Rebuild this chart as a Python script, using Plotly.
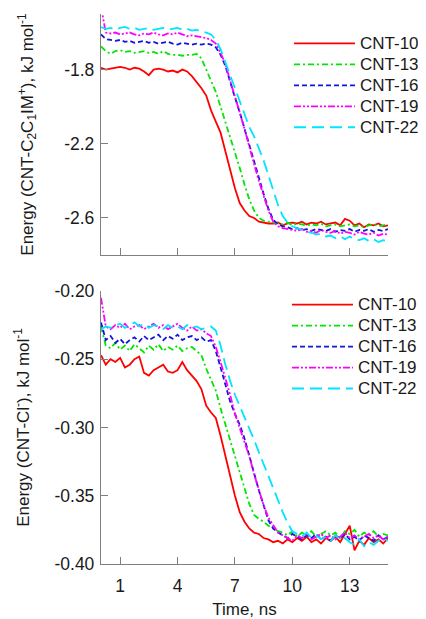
import plotly.graph_objects as go

time_ns = [0, 0.25, 0.5, 0.75, 1, 1.25, 1.5, 1.75, 2, 2.25, 2.5, 2.75, 3, 3.25, 3.5, 3.75,
           4, 4.25, 4.5, 4.75, 5, 5.25, 5.5, 5.75, 6, 6.25, 6.5, 6.75, 7, 7.25, 7.5, 7.75,
           8, 8.25, 8.5, 8.75, 9, 9.25, 9.5, 9.75, 10, 10.25, 10.5, 10.75, 11, 11.25, 11.5, 11.75,
           12, 12.25, 12.5, 12.75, 13, 13.25, 13.5, 13.75, 14, 14.25, 14.5, 14.75, 15]

series_names = ["CNT-10", "CNT-13", "CNT-16", "CNT-19", "CNT-22"]

# Top panel: Energy (CNT-C2C1IM+), kJ/mol
top_cnt10 = [-1.79, -1.80, -1.795, -1.79, -1.785, -1.79, -1.80, -1.79, -1.795, -1.81, -1.83, -1.80,
             -1.795, -1.80, -1.81, -1.805, -1.815, -1.80, -1.81, -1.835, -1.865, -1.90, -1.94, -2.02,
             -2.08, -2.14, -2.24, -2.34, -2.44, -2.52, -2.56, -2.59, -2.60, -2.62, -2.625, -2.63,
             -2.63, -2.625, -2.64, -2.63, -2.625, -2.63, -2.62, -2.635, -2.625, -2.63, -2.62, -2.635,
             -2.63, -2.625, -2.64, -2.605, -2.615, -2.64, -2.63, -2.65, -2.635, -2.64, -2.63, -2.645, -2.64]
top_cnt13 = [-1.675, -1.70, -1.715, -1.70, -1.695, -1.705, -1.70, -1.71, -1.705, -1.70, -1.71, -1.705,
             -1.715, -1.70, -1.715, -1.72, -1.72, -1.725, -1.72, -1.72, -1.715, -1.74, -1.80, -1.86,
             -1.92, -2.00, -2.08, -2.17, -2.25, -2.33, -2.42, -2.50, -2.56, -2.60, -2.615, -2.62,
             -2.625, -2.63, -2.635, -2.625, -2.64, -2.63, -2.635, -2.64, -2.635, -2.64, -2.63, -2.645,
             -2.64, -2.635, -2.645, -2.64, -2.635, -2.645, -2.64, -2.65, -2.64, -2.635, -2.645, -2.64, -2.635]
top_cnt16 = [-1.61, -1.635, -1.64, -1.645, -1.64, -1.65, -1.645, -1.655, -1.65, -1.645, -1.655, -1.65,
             -1.66, -1.655, -1.65, -1.66, -1.665, -1.655, -1.66, -1.665, -1.66, -1.665, -1.66, -1.665,
             -1.68, -1.72, -1.78, -1.87, -1.95, -2.03, -2.12, -2.21, -2.30, -2.39, -2.47, -2.55,
             -2.61, -2.635, -2.645, -2.65, -2.66, -2.655, -2.665, -2.66, -2.67, -2.66, -2.665, -2.67,
             -2.66, -2.675, -2.665, -2.67, -2.66, -2.675, -2.665, -2.67, -2.66, -2.675, -2.665, -2.67, -2.66]
top_cnt19 = [-1.46, -1.60, -1.605, -1.60, -1.61, -1.605, -1.60, -1.61, -1.615, -1.605, -1.61, -1.60,
             -1.61, -1.615, -1.605, -1.61, -1.60, -1.61, -1.62, -1.615, -1.62, -1.625, -1.63, -1.64,
             -1.66, -1.71, -1.77, -1.86, -1.94, -2.03, -2.12, -2.22, -2.31, -2.40, -2.48, -2.56,
             -2.62, -2.645, -2.655, -2.66, -2.665, -2.67, -2.66, -2.675, -2.67, -2.68, -2.665, -2.675,
             -2.68, -2.67, -2.685, -2.675, -2.68, -2.69, -2.675, -2.685, -2.69, -2.68, -2.695, -2.685, -2.69]
top_cnt22 = [-1.57, -1.58, -1.575, -1.585, -1.575, -1.57, -1.58, -1.575, -1.585, -1.58, -1.575, -1.585,
             -1.58, -1.575, -1.585, -1.58, -1.575, -1.585, -1.58, -1.59, -1.585, -1.595, -1.60, -1.61,
             -1.64, -1.69, -1.76, -1.84, -1.91, -1.98, -2.05, -2.11, -2.16, -2.22, -2.29, -2.37,
             -2.45, -2.53, -2.59, -2.625, -2.645, -2.655, -2.665, -2.675, -2.68, -2.69, -2.685, -2.70,
             -2.695, -2.71, -2.70, -2.715, -2.70, -2.715, -2.72, -2.71, -2.725, -2.715, -2.73, -2.72, -2.725]

# Bottom panel: Energy (CNT-Cl-), kJ/mol
bot_cnt10 = [-0.247, -0.254, -0.250, -0.252, -0.249, -0.256, -0.254, -0.250, -0.248, -0.260, -0.262, -0.258,
             -0.256, -0.254, -0.259, -0.260, -0.258, -0.252, -0.258, -0.262, -0.266, -0.272, -0.284, -0.289,
             -0.293, -0.306, -0.321, -0.336, -0.350, -0.362, -0.369, -0.374, -0.377, -0.378, -0.381, -0.382,
             -0.384, -0.383, -0.385, -0.382, -0.384, -0.381, -0.383, -0.380, -0.384, -0.382, -0.385, -0.381,
             -0.383, -0.380, -0.384, -0.378, -0.372, -0.390, -0.383, -0.386, -0.381, -0.384, -0.382, -0.385, -0.381]
bot_cnt13 = [-0.226, -0.240, -0.242, -0.238, -0.243, -0.240, -0.244, -0.239, -0.242, -0.245, -0.240, -0.243,
             -0.239, -0.244, -0.241, -0.243, -0.240, -0.244, -0.242, -0.241, -0.244, -0.247, -0.257, -0.265,
             -0.273, -0.286, -0.298, -0.310, -0.322, -0.334, -0.345, -0.356, -0.364, -0.367, -0.369, -0.372,
             -0.374, -0.376, -0.377, -0.379, -0.376, -0.380, -0.377, -0.379, -0.376, -0.380, -0.378, -0.376,
             -0.379, -0.377, -0.381, -0.376, -0.378, -0.375, -0.380, -0.377, -0.379, -0.376, -0.380, -0.378, -0.379]
bot_cnt16 = [-0.223, -0.236, -0.233, -0.238, -0.235, -0.239, -0.236, -0.234, -0.237, -0.233, -0.236, -0.234,
             -0.232, -0.236, -0.233, -0.235, -0.232, -0.236, -0.234, -0.233, -0.236, -0.234, -0.237, -0.236,
             -0.244, -0.256, -0.269, -0.281, -0.290, -0.298, -0.308, -0.321, -0.334, -0.346, -0.357, -0.368,
             -0.374, -0.377, -0.379, -0.381, -0.378, -0.380, -0.382, -0.379, -0.381, -0.378, -0.382, -0.380,
             -0.383, -0.379, -0.381, -0.378, -0.382, -0.380, -0.383, -0.379, -0.381, -0.383, -0.379, -0.382, -0.380]
bot_cnt19 = [-0.205, -0.226, -0.228, -0.225, -0.227, -0.224, -0.228, -0.226, -0.225, -0.228, -0.226, -0.224,
             -0.227, -0.225, -0.228, -0.226, -0.224, -0.227, -0.229, -0.226, -0.229, -0.228, -0.231, -0.233,
             -0.241, -0.252, -0.264, -0.276, -0.290, -0.300, -0.310, -0.321, -0.334, -0.345, -0.357, -0.366,
             -0.372, -0.377, -0.379, -0.381, -0.383, -0.379, -0.381, -0.378, -0.382, -0.380, -0.378, -0.381,
             -0.379, -0.382, -0.380, -0.377, -0.381, -0.379, -0.382, -0.380, -0.378, -0.381, -0.379, -0.382, -0.380]
bot_cnt22 = [-0.228, -0.226, -0.227, -0.225, -0.224, -0.227, -0.225, -0.223, -0.226, -0.224, -0.227, -0.225,
             -0.226, -0.228, -0.225, -0.227, -0.226, -0.228, -0.225, -0.227, -0.226, -0.228, -0.227, -0.226,
             -0.229, -0.240, -0.254, -0.266, -0.276, -0.284, -0.292, -0.300, -0.309, -0.318, -0.327, -0.336,
             -0.345, -0.354, -0.362, -0.370, -0.376, -0.378, -0.380, -0.377, -0.381, -0.379, -0.382, -0.380,
             -0.383, -0.379, -0.382, -0.381, -0.384, -0.386, -0.382, -0.387, -0.384, -0.386, -0.383, -0.381, -0.383]

x_ticks = [1, 4, 7, 10, 13]
top_y_ticks = [-1.8, -2.2, -2.6]
top_y_ticklabels = ["-1.8", "-2.2", "-2.6"]
bot_y_ticks = [-0.20, -0.25, -0.30, -0.35, -0.40]
bot_y_ticklabels = ["-0.20", "-0.25", "-0.30", "-0.35", "-0.40"]

colors = ["#ff0000", "#00e600", "#1414dc", "#ff00ff", "#00e5ff"]
dashes = ["solid", "6px,3px,2px,3px", "5px,3px", "7px,2px,2px,2px,2px,2px", "12px,6px"]

FONT = "Arial, Liberation Sans, sans-serif"
TXT = "#1a1a1a"


def legend_label(name):
    # larger glyphs than the legend's row-spacing font, to keep the tight row pitch
    return '<span style="font-size:17px">' + name + '</span>'


fig = go.Figure()
top_series = [top_cnt10, top_cnt13, top_cnt16, top_cnt19, top_cnt22]
bot_series = [bot_cnt10, bot_cnt13, bot_cnt16, bot_cnt19, bot_cnt22]
for name, ys, c, d in zip(series_names, top_series, colors, dashes):
    fig.add_trace(go.Scatter(x=time_ns, y=ys, mode="lines", name=legend_label(name),
                             line=dict(color=c, width=1.8, dash=d),
                             xaxis="x", yaxis="y", legend="legend"))
for name, ys, c, d in zip(series_names, bot_series, colors, dashes):
    fig.add_trace(go.Scatter(x=time_ns, y=ys, mode="lines", name=legend_label(name),
                             line=dict(color=c, width=1.8, dash=d),
                             xaxis="x2", yaxis="y2", legend="legend2"))

axis_common = dict(showline=True, linecolor="#808080", linewidth=1.3, ticks="inside",
                   tickcolor="#808080", ticklen=7, tickwidth=1.3, showgrid=False,
                   zeroline=False, mirror=False, automargin=False,
                   tickfont=dict(family=FONT, size=17.5, color=TXT))

# The page body has an 8px default margin; the figure margins compensate for it.
fig.update_layout(
    width=426, height=619,
    margin=dict(l=93, r=46, t=6, b=63),
    paper_bgcolor="white", plot_bgcolor="white",
    font=dict(family=FONT, size=17, color=TXT),
    xaxis=dict(domain=[0, 1], range=[0, 15], tickvals=x_ticks, showticklabels=False,
               anchor="y", **axis_common),
    yaxis=dict(domain=[0.5618, 1], range=[-2.8, -1.5], tickvals=top_y_ticks,
               ticktext=top_y_ticklabels, anchor="x", ticklabelstandoff=2,
               title=dict(text="Energy (CNT-C<sub>2</sub>C<sub>1</sub>IM<sup>+</sup>), kJ mol<sup>-1</sup>",
                          font=dict(family=FONT, size=17, color=TXT), standoff=26),
               **axis_common),
    xaxis2=dict(domain=[0, 1], range=[0, 15], tickvals=x_ticks, anchor="y2",
                ticklabelstandoff=6,
                title=dict(text="Time, ns", font=dict(family=FONT, size=17, color=TXT), standoff=7),
                **axis_common),
    yaxis2=dict(domain=[0, 0.4964], range=[-0.40, -0.20], tickvals=bot_y_ticks,
                ticktext=bot_y_ticklabels, anchor="x2", ticklabelstandoff=2,
                title=dict(text="Energy (CNT-Cl<sup>-</sup>), kJ mol<sup>-1</sup>",
                           font=dict(family=FONT, size=17, color=TXT), standoff=20),
                **axis_common),
    legend=dict(x=0.655, y=0.87, xanchor="left", yanchor="middle", bgcolor="rgba(0,0,0,0)",
                font=dict(family=FONT, size=13.8, color=TXT), itemwidth=61, tracegroupgap=0),
    legend2=dict(x=0.648, y=0.395, xanchor="left", yanchor="middle", bgcolor="rgba(0,0,0,0)",
                 font=dict(family=FONT, size=13.8, color=TXT), itemwidth=61, tracegroupgap=0),
    showlegend=True,
)

fig.write_html("out.html")
